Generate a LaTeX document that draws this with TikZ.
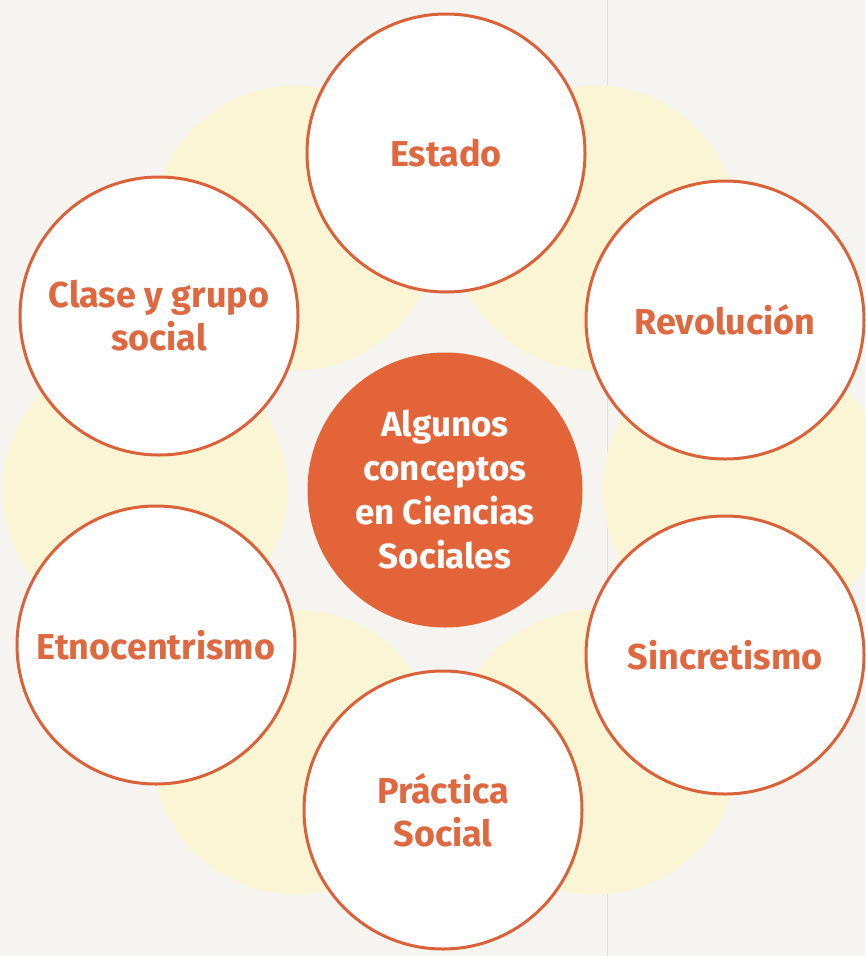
\documentclass[tikz,border=0pt]{standalone}
\usepackage{fontspec}
\setmainfont{Fira Sans}[BoldFont={* Bold}]
\definecolor{bgpage}{RGB}{245,244,241}
\definecolor{paleyel}{RGB}{250,245,212}
\definecolor{ring}{RGB}{218,98,58}
\definecolor{hubfill}{RGB}{228,100,58}
\definecolor{txtor}{RGB}{222,104,64}
\tikzset{
  concept/.style={circle, draw=ring, line width=3pt, fill=white, minimum size=278pt,
    inner sep=0pt, font=\fontsize{36}{43}\selectfont\bfseries, text=txtor, align=center},
  hub/.style={circle, fill=hubfill, draw=none, minimum size=275pt, inner sep=0pt,
    font=\fontsize{35}{44}\selectfont\bfseries, text=white, align=center},
  blob/.style={circle, fill=paleyel, draw=none, minimum size=285pt, inner sep=0pt}
}
\begin{document}
\begin{tikzpicture}[x=1pt,y=-1pt]
\fill[bgpage] (0,0) rectangle (865,956);
\useasboundingbox (0,0) rectangle (865,956);
\draw[black!12, line width=1pt] (607,0) -- (607,956);
% pale yellow background ring
\node[blob] (y1) at (745,490) {};
\node[blob] (y2) at (595,228) {};
\node[blob] (y3) at (295,228) {};
\node[blob] (y4) at (145,490) {};
\node[blob] (y5) at (295,752) {};
\node[blob] (y6) at (595,752) {};
% concept circles
\node[hub] (c) at (445,490) {Algunos\\conceptos\\en Ciencias\\Sociales};
\node[concept] (estado) at (446,153) {Estado};
\node[concept] (clase) at (159,316) {Clase y grupo\\social};
\node[concept] (revol) at (725,320) {Revolución};
\node[concept] (etno) at (156,645) {Etnocentrismo};
\node[concept] (sinc) at (725,655) {Sincretismo};
\node[concept] (pract) at (443,810) {Práctica\\Social};
\end{tikzpicture}
\end{document}
